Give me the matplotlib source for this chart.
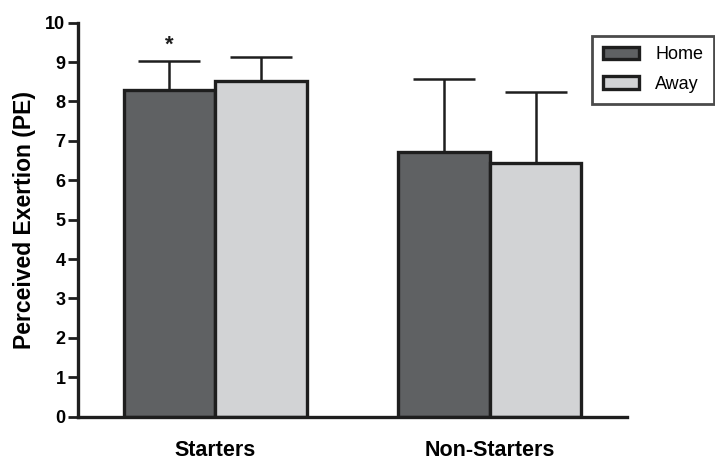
import matplotlib
matplotlib.use("Agg")
import matplotlib.pyplot as plt
import numpy as np

plt.rcParams['font.family'] = ['Liberation Sans', 'DejaVu Sans']

groups = ["Starters", "Non-Starters"]
series = ["Home", "Away"]
home_mean = [8.3, 6.72]
home_sd = [0.73, 1.86]
away_mean = [8.53, 6.43]
away_sd = [0.6, 1.8]
y_ticks = list(range(0, 11))

colors = {"Home": "#5f6163", "Away": "#d2d3d5"}
edge = "#1e1e1e"

fig = plt.figure(figsize=(7.15, 4.61), dpi=100)
ax = fig.add_axes([0.109, 0.096, 0.768, 0.855])

centers = np.array([1.5, 4.5])
width = 1.0
for offset, name, means, sds in [(-0.5, "Home", home_mean, home_sd),
                                 (0.5, "Away", away_mean, away_sd)]:
    xs = centers + offset
    ax.bar(xs, means, width=width, color=colors[name], edgecolor=edge,
           linewidth=2.4, label=name, zorder=2)
    ax.errorbar(xs, means, yerr=[np.zeros(len(sds)), sds], fmt="none",
                ecolor=edge, elinewidth=1.8, capsize=22, capthick=1.8, zorder=1)

# significance marker above the starters' home bar
ax.text(centers[0] - 0.5, home_mean[0] + home_sd[0] + 0.12, "*",
        ha="center", va="bottom", fontsize=16, fontweight="bold", color=edge)

ax.set_xlim(0, 6)
ax.set_ylim(0, 10)
ax.set_yticks(y_ticks)
ax.set_yticklabels([str(t) for t in y_ticks], fontsize=13, fontweight="bold")
ax.set_xticks(centers)
ax.set_xticklabels(groups, fontsize=15.5, fontweight="bold")
ax.tick_params(axis="x", length=0, pad=17)
ax.tick_params(axis="y", length=7, width=2, pad=2, color=edge)
ax.set_ylabel("Perceived Exertion (PE)", fontsize=16.5, fontweight="bold", labelpad=7)

for side in ["top", "right"]:
    ax.spines[side].set_visible(False)
for side in ["left", "bottom"]:
    ax.spines[side].set_linewidth(2.4)
    ax.spines[side].set_color(edge)

leg = ax.legend(loc="upper left", bbox_to_anchor=(0.92, 0.99), frameon=True,
                fancybox=False, edgecolor=edge, fontsize=13,
                handlelength=2.0, handleheight=0.7, borderpad=0.6,
                labelspacing=0.7, handletextpad=0.9)
leg.get_frame().set_linewidth(2)

fig.savefig("out.png", dpi=100, facecolor="white")
